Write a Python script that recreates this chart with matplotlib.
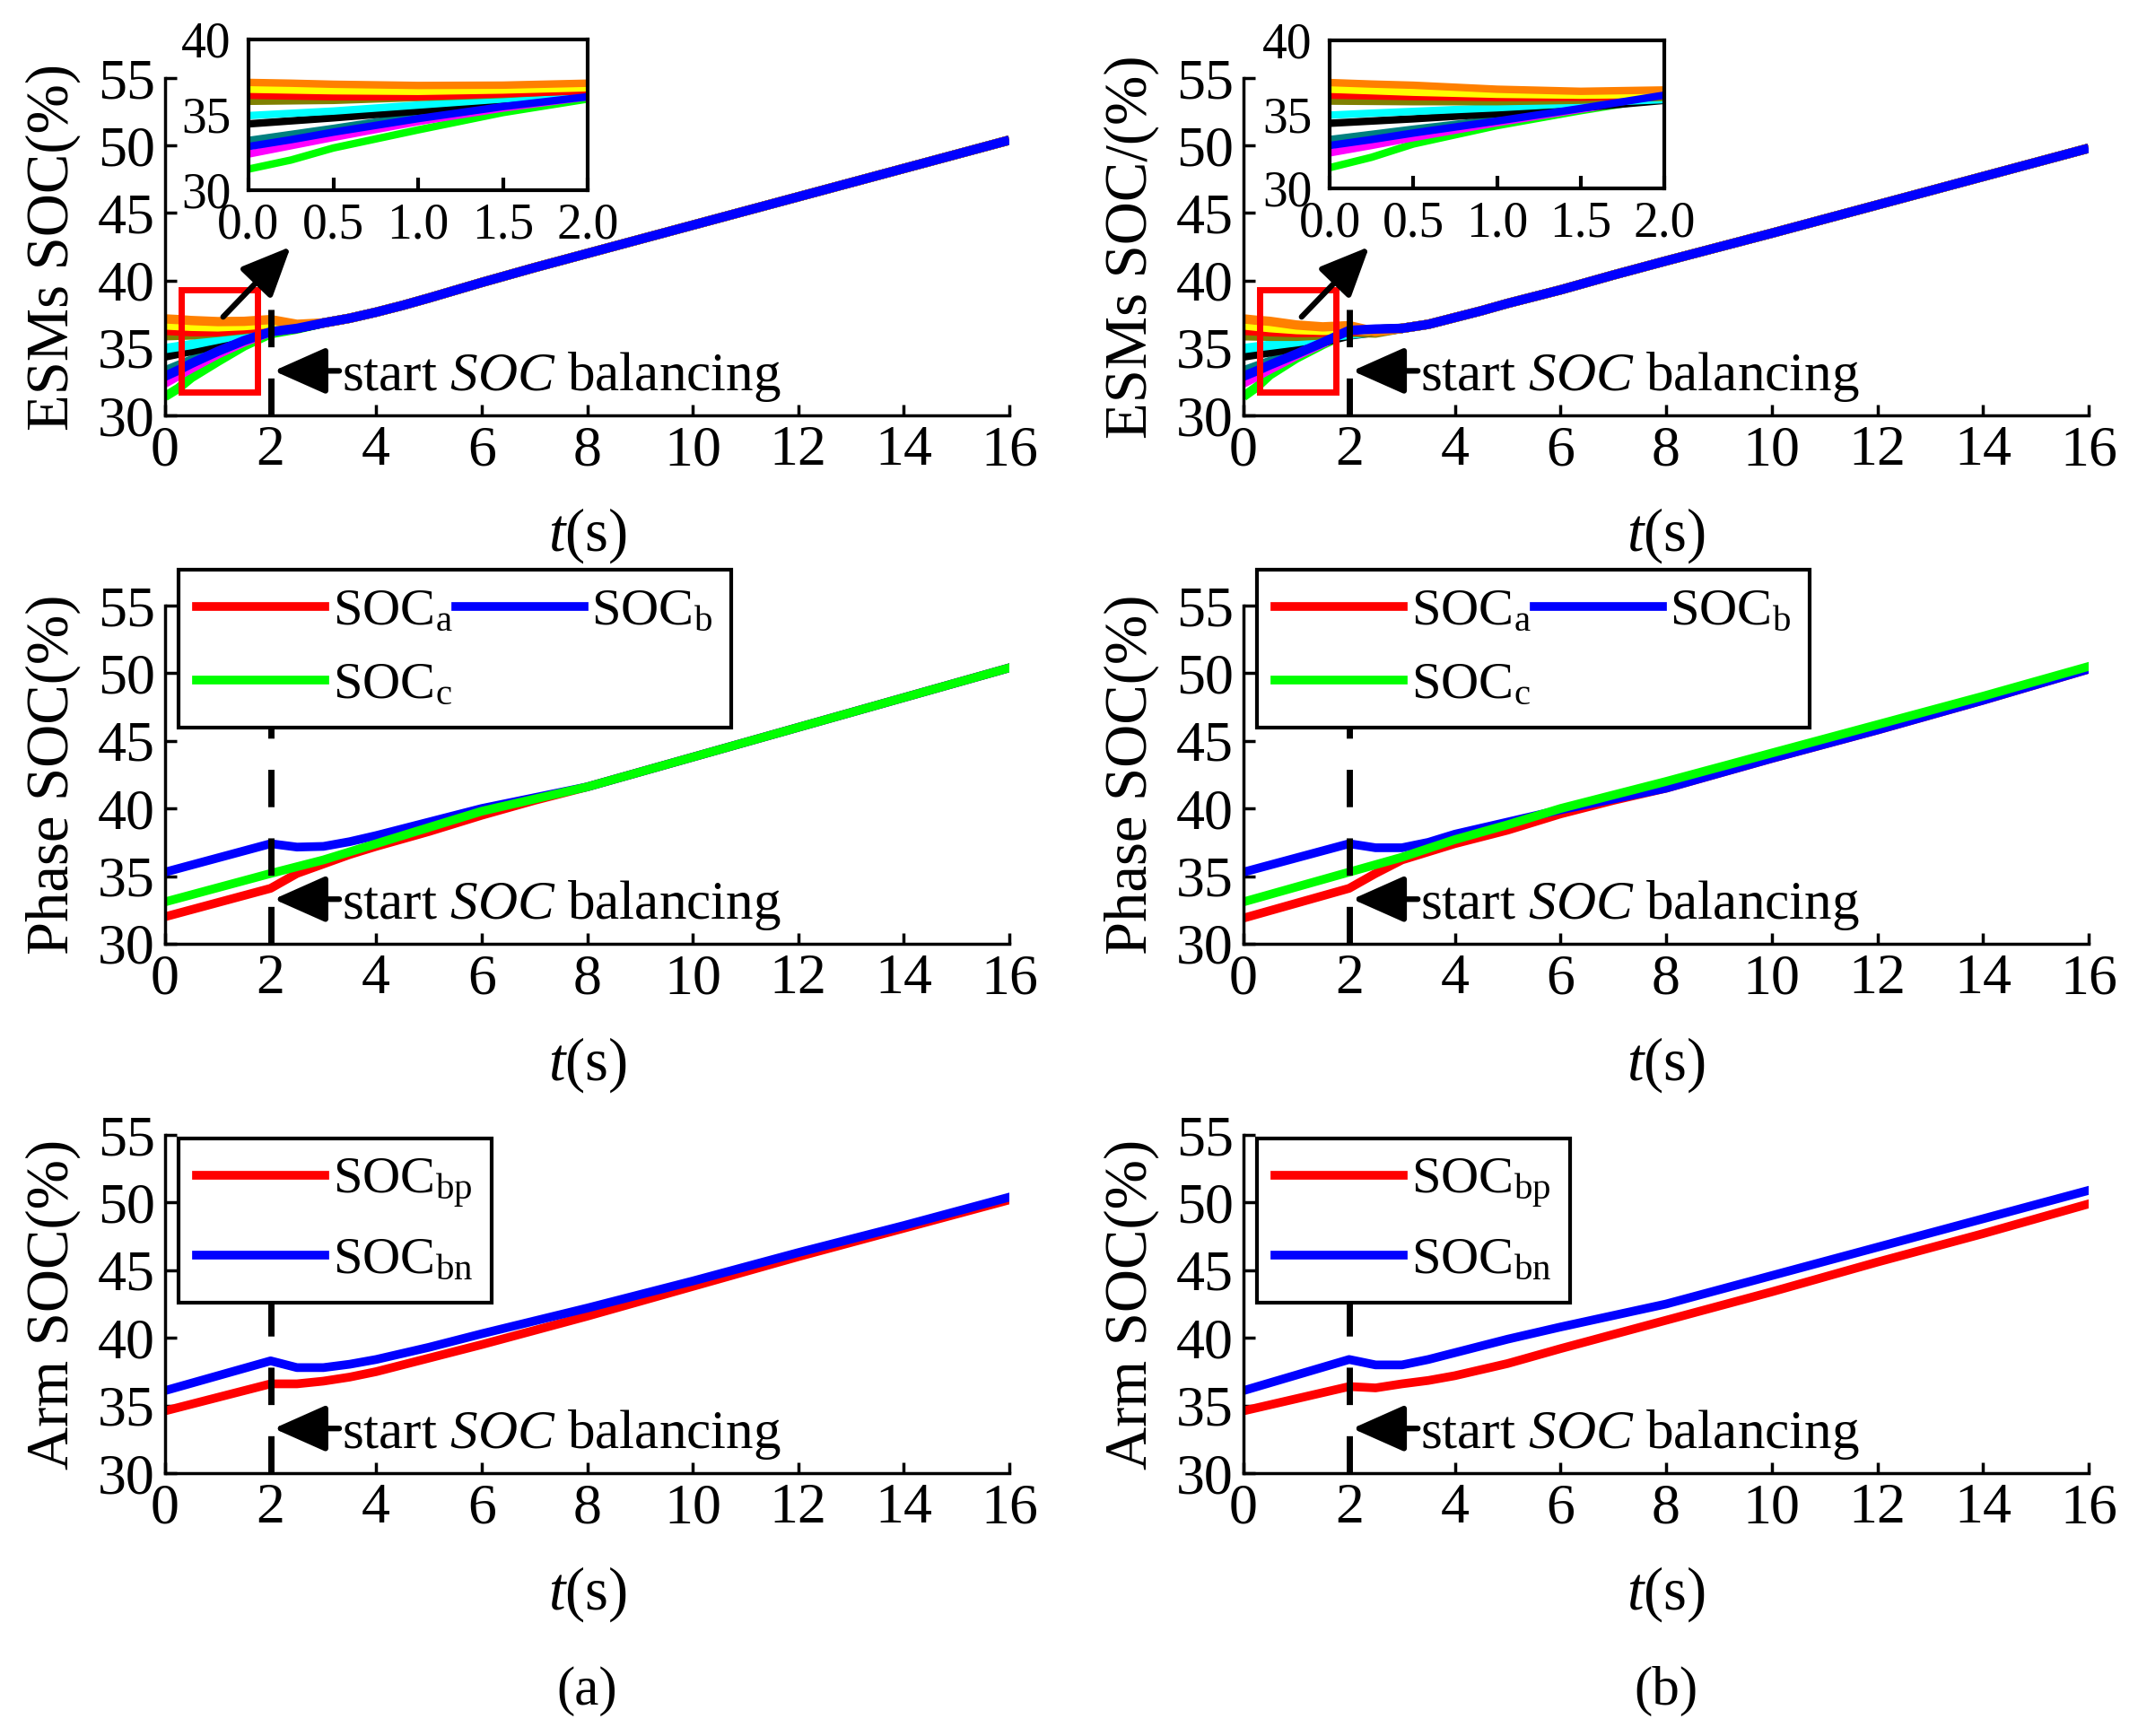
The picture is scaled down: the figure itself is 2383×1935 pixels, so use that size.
import numpy as np
import matplotlib
matplotlib.use("Agg")
import matplotlib.pyplot as plt
from matplotlib.patches import Rectangle

plt.rcParams['font.family'] = ['Liberation Serif', 'DejaVu Serif']
plt.rcParams['mathtext.fontset'] = 'custom'
plt.rcParams['mathtext.rm'] = 'Liberation Serif'
plt.rcParams['mathtext.it'] = 'Liberation Serif:italic'

# ---- data ----
esm_colors = ['#00FF00', '#FF00FF', '#008080', '#000000', '#00FFFF',
              '#808000', '#FF0000', '#FFFF00', '#FF8000', '#0000FF']
esm_names = ['green', 'magenta', 'teal', 'black', 'cyan',
             'olive', 'red', 'yellow', 'orange', 'blue']

esm_t_early = [0, 0.25, 0.5, 1.0, 1.5, 2.0, 2.5]
esm_t_tail = [3, 3.5, 4, 4.5, 5, 6, 7, 8, 10, 12, 14, 16]

# case (a)
esm_early_a = {
    'orange':  [37.15, 37.10, 37.03, 36.95, 36.97, 37.10, 36.75],
    'yellow':  [36.70, 36.65, 36.60, 36.56, 36.65, 36.80, 36.60],
    'red':     [36.30, 36.25, 36.20, 36.20, 36.40, 36.60, 36.55],
    'olive':   [35.90, 35.93, 35.96, 36.15, 36.35, 36.65, 36.55],
    'cyan':    [34.95, 35.10, 35.25, 35.65, 36.05, 36.45, 36.50],
    'black':   [34.40, 34.60, 34.80, 35.25, 35.75, 36.30, 36.45],
    'teal':    [33.30, 33.70, 34.10, 34.95, 35.65, 36.25, 36.45],
    'blue':    [32.90, 33.35, 33.85, 34.75, 35.55, 36.20, 36.45],
    'magenta': [32.40, 32.95, 33.50, 34.55, 35.45, 36.20, 36.45],
    'green':   [31.40, 32.00, 32.80, 34.00, 35.15, 36.05, 36.40],
}
esm_tail_a = [36.85, 37.2, 37.65, 38.15, 38.7, 39.85, 40.95, 42.0, 44.1, 46.2, 48.3, 50.4]

# case (b)
esm_early_b = {
    'orange':  [37.15, 37.05, 36.97, 36.70, 36.56, 36.65, 36.20],
    'yellow':  [36.70, 36.60, 36.50, 36.36, 36.30, 36.36, 36.25],
    'red':     [36.30, 36.25, 36.20, 36.14, 36.16, 36.26, 36.25],
    'olive':   [35.90, 35.88, 35.86, 35.86, 35.96, 36.16, 36.10],
    'cyan':    [34.95, 35.08, 35.20, 35.45, 35.76, 36.00, 36.20],
    'black':   [34.40, 34.55, 34.70, 35.05, 35.45, 35.95, 36.20],
    'teal':    [33.30, 33.65, 34.00, 34.65, 35.45, 36.20, 36.35],
    'blue':    [32.90, 33.30, 33.74, 34.55, 35.40, 36.30, 36.40],
    'magenta': [32.40, 32.90, 33.43, 34.44, 35.35, 36.20, 36.35],
    'green':   [31.40, 32.10, 33.00, 34.24, 35.25, 36.16, 36.35],
}
esm_tail_b = [36.45, 36.75, 37.25, 37.75, 38.3, 39.3, 40.4, 41.45, 43.5, 45.6, 47.7, 49.8]

phase_t = [0, 2, 2.5, 3, 3.5, 4, 4.5, 5, 6, 7, 8, 10, 12, 14, 16]
phase_a = {
    'a': [32.0, 34.1, 35.2, 35.9, 36.6, 37.2, 37.75, 38.3, 39.5, 40.6, 41.6, 43.8, 46.0, 48.2, 50.4],
    'b': [35.3, 37.4, 37.15, 37.2, 37.55, 38.0, 38.5, 39.0, 40.0, 40.8, 41.6, 43.8, 46.0, 48.2, 50.4],
    'c': [33.1, 35.2, 35.7, 36.2, 36.8, 37.4, 38.0, 38.6, 39.8, 40.7, 41.6, 43.8, 46.0, 48.2, 50.4],
}
phase_b = {
    'a': [31.9, 34.1, 35.2, 36.2, 36.8, 37.4, 37.9, 38.4, 39.6, 40.6, 41.5, 43.7, 45.8, 48.0, 50.3],
    'b': [35.3, 37.4, 37.1, 37.1, 37.5, 38.1, 38.55, 39.0, 39.9, 40.7, 41.5, 43.7, 45.8, 48.0, 50.3],
    'c': [33.1, 35.3, 35.85, 36.4, 37.05, 37.7, 38.25, 38.8, 40.0, 41.0, 42.0, 44.1, 46.2, 48.3, 50.5],
}

arm_t = [0, 2, 2.5, 3, 3.5, 4, 5, 6, 7, 8, 10, 12, 14, 16]
arm_a = {
    'bp': [34.6, 36.6, 36.6, 36.8, 37.1, 37.5, 38.5, 39.5, 40.55, 41.6, 43.8, 46.0, 48.1, 50.2],
    'bn': [36.1, 38.3, 37.8, 37.8, 38.05, 38.4, 39.3, 40.3, 41.25, 42.2, 44.2, 46.3, 48.3, 50.4],
}
arm_b = {
    'bp': [34.6, 36.4, 36.3, 36.6, 36.85, 37.2, 38.1, 39.2, 40.25, 41.3, 43.4, 45.6, 47.7, 49.9],
    'bn': [36.1, 38.4, 38.0, 38.0, 38.4, 38.9, 39.9, 40.8, 41.65, 42.5, 44.6, 46.7, 48.8, 50.9],
}

x_ticks = list(range(0, 17, 2))
y_ticks = [30, 35, 40, 45, 50, 55]

W, H = 2383, 1935
TICK_FS = 46
LABEL_FS = 48
NOTE_FS = 44


def px_axes(fig, x0, y0, x1, y1):
    """Axes from pixel box (top-left origin)."""
    return fig.add_axes([x0 / W, 1 - y1 / H, (x1 - x0) / W, (y1 - y0) / H])


def style_main(ax, ylabel):
    ax.set_xlim(0, 16)
    ax.set_ylim(30, 55)
    ax.set_xticks(x_ticks)
    ax.set_yticks(y_ticks)
    for s in ['top', 'right']:
        ax.spines[s].set_visible(False)
    for s in ['left', 'bottom']:
        ax.spines[s].set_linewidth(2.5)
    ax.tick_params(direction='in', length=9, width=2.5, labelsize=TICK_FS, pad=8)
    ax.set_ylabel(ylabel, fontsize=LABEL_FS)
    ax.yaxis.set_label_coords(-0.1, 0.5)
    ax.set_xlabel(r'$\mathit{t}$(s)', fontsize=LABEL_FS)
    ax.xaxis.set_label_coords(0.5, -0.27)
    ax.patch.set_alpha(0)


def mark_start(ax, ytop):
    ax.plot([2, 2], [30, ytop], color='k', lw=5, dashes=(6, 5), zorder=4)
    ax.annotate('', xy=(2.06, 33.3), xytext=(3.3, 33.3),
                arrowprops=dict(arrowstyle='-|>,head_length=0.45,head_width=0.2',
                                lw=4.5, color='k', mutation_scale=80,
                                shrinkA=0, shrinkB=0))
    ax.text(3.35, 31.85, r'start $\mathit{SOC}$ balancing', fontsize=NOTE_FS,
            va='baseline', ha='left')


def legend(ax, handles, ncol, top):
    leg = ax.legend(handles=handles, loc='upper left', bbox_to_anchor=(0.016, top),
                    ncol=ncol, fontsize=42, handlelength=2.45, handletextpad=0.15,
                    columnspacing=0.05, labelspacing=0.5, borderpad=0.35,
                    borderaxespad=0, fancybox=False, framealpha=1)
    leg.get_frame().set_edgecolor('k')
    leg.get_frame().set_linewidth(3)
    leg.set_zorder(10)


fig = plt.figure(figsize=(W / 100, H / 100), dpi=100)

columns = [
    (184, 1125, esm_early_a, esm_tail_a, phase_a, arm_a, 'ESMs SOC(%)', '(a)', (277, 44, 655, 212)),
    (1386, 2328, esm_early_b, esm_tail_b, phase_b, arm_b, 'ESMs SOC/(%)', '(b)', (1482, 45, 1855, 210)),
]

for x0, x1, early, tail, phase, arm, esm_label, tag, inset_box in columns:
    t_esm = esm_t_early + esm_t_tail

    # ESM panel
    ax1 = px_axes(fig, x0, 87, x1, 463)
    for name, col in zip(esm_names, esm_colors):
        ax1.plot(t_esm, early[name] + tail, color=col, lw=7.5, solid_capstyle='butt')
    style_main(ax1, esm_label)
    ax1.add_patch(Rectangle((0.3, 31.7), 1.45, 7.6, fill=False, edgecolor='#FF0000',
                            lw=5, zorder=6))
    ax1.annotate('', xy=(2.38, 42.5), xytext=(1.1, 37.3),
                 arrowprops=dict(arrowstyle='-|>,head_length=0.45,head_width=0.2',
                                 lw=4.5, color='k', mutation_scale=75,
                                 shrinkA=0, shrinkB=0), zorder=7)
    mark_start(ax1, 39.4)

    # zoomed inset
    axi = px_axes(fig, *inset_box)
    for name, col in zip(esm_names, esm_colors):
        axi.plot(esm_t_early, early[name], color=col, lw=6, solid_capstyle='butt')
    axi.set_xlim(0, 2)
    axi.set_ylim(30, 40)
    axi.set_xticks([0, 0.5, 1.0, 1.5, 2.0])
    axi.set_xticklabels(['0.0', '0.5', '1.0', '1.5', '2.0'])
    axi.set_yticks([30, 35, 40])
    for s in axi.spines.values():
        s.set_linewidth(3)
    axi.tick_params(direction='in', labelsize=40, width=3)
    axi.tick_params(axis='x', length=10, pad=10)
    axi.tick_params(axis='y', length=0, pad=14)

    # phase panel
    ax2 = px_axes(fig, x0, 675, x1, 1052)
    la, = ax2.plot(phase_t, phase['a'], color='#FF0000', lw=7, label=r'SOC$_\mathrm{a}$')
    lb, = ax2.plot(phase_t, phase['b'], color='#0000FF', lw=7, label=r'SOC$_\mathrm{b}$')
    lc, = ax2.plot(phase_t, phase['c'], color='#00FF00', lw=7, label=r'SOC$_\mathrm{c}$')
    style_main(ax2, 'Phase SOC(%)')
    mark_start(ax2, 46)
    # column-wise fill, so a/c go in column one and b in column two
    legend(ax2, [la, lc, lb], 2, 1.106)

    # arm panel
    ax3 = px_axes(fig, x0, 1265, x1, 1642)
    lp, = ax3.plot(arm_t, arm['bp'], color='#FF0000', lw=7, label=r'SOC$_\mathrm{bp}$')
    ln, = ax3.plot(arm_t, arm['bn'], color='#0000FF', lw=7, label=r'SOC$_\mathrm{bn}$')
    style_main(ax3, 'Arm SOC(%)')
    mark_start(ax3, 43)
    legend(ax3, [lp, ln], 1, 0.989)

    fig.text((x0 + x1) / 2 / W, 1 - 1885 / H, tag, fontsize=NOTE_FS, ha='center', va='center')

fig.savefig('out.png', dpi=100)
